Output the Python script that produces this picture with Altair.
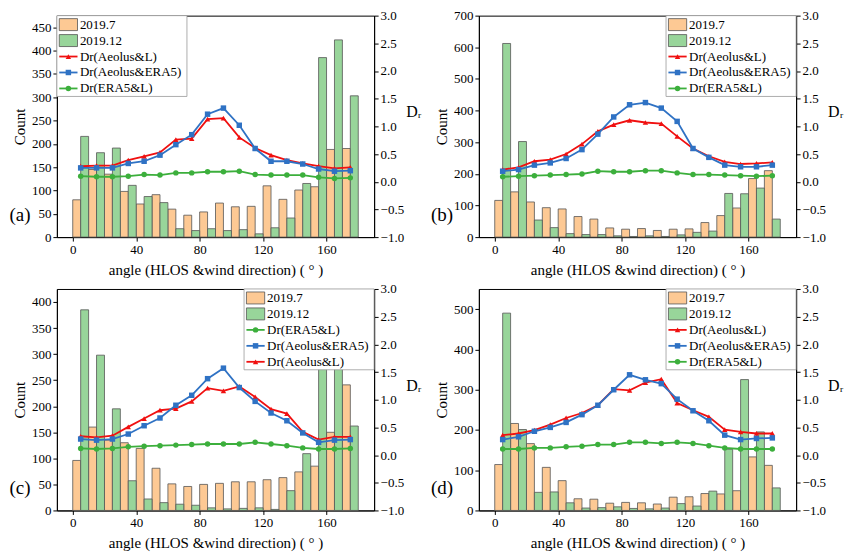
import altair as alt
import pandas as pd

bins = list(range(0, 180, 10))
centers = [b + 5 for b in bins]

a_or = [80,145,135,98,71,91,60,47,54,73,65,66,110,81,101,108,188,190]
a_gr = [216,181,191,111,87,74,18,14,18,14,16,7,20,41,115,385,423,303]
a_red = [0.28,0.29,0.29,0.39,0.46,0.53,0.76,0.78,1.13,1.15,0.80,0.61,0.48,0.39,0.33,0.28,0.24,0.26]
a_blue = [0.25,0.25,0.25,0.33,0.37,0.48,0.67,0.85,1.22,1.33,1.02,0.60,0.37,0.37,0.32,0.23,0.19,0.20]
a_green = [0.10,0.09,0.09,0.10,0.13,0.12,0.16,0.16,0.18,0.18,0.19,0.13,0.12,0.12,0.12,0.08,0.06,0.07]

b_or = [116,143,111,93,89,65,57,29,25,27,21,25,26,46,68,92,185,210]
b_gr = [612,302,54,30,11,8,8,4,2,4,2,7,15,19,138,137,155,57]
b_red = [0.22,0.26,0.37,0.40,0.50,0.68,0.91,1.03,1.11,1.07,1.05,0.82,0.60,0.46,0.36,0.32,0.33,0.35]
b_blue = [0.19,0.22,0.30,0.34,0.42,0.58,0.86,1.17,1.39,1.43,1.33,1.09,0.60,0.44,0.30,0.27,0.27,0.30]
b_green = [0.09,0.10,0.11,0.12,0.13,0.14,0.19,0.18,0.18,0.20,0.20,0.16,0.13,0.13,0.12,0.11,0.10,0.11]

c_or = [96,160,135,130,119,81,51,46,50,52,55,55,59,63,74,85,150,241]
c_gr = [385,298,195,57,22,15,12,10,5,3,4,5,2,38,109,330,281,162]
c_red = [0.34,0.32,0.35,0.51,0.66,0.81,0.84,0.97,1.21,1.16,1.24,1.05,0.83,0.75,0.42,0.28,0.33,0.33]
c_blue = [0.29,0.27,0.29,0.38,0.53,0.67,0.90,1.08,1.38,1.57,1.22,0.97,0.76,0.62,0.40,0.23,0.27,0.28]
c_green = [0.12,0.11,0.12,0.15,0.16,0.17,0.18,0.19,0.20,0.20,0.20,0.23,0.20,0.17,0.13,0.11,0.11,0.12]

d_or = [114,216,166,107,74,29,28,18,20,19,16,33,34,42,41,49,133,112]
d_gr = [490,201,45,46,19,6,7,9,5,4,6,17,11,48,152,325,195,56]
d_red = [0.36,0.39,0.45,0.55,0.67,0.76,0.90,1.19,1.17,1.31,1.37,0.94,0.81,0.69,0.46,0.42,0.39,0.39]
d_blue = [0.28,0.33,0.43,0.50,0.59,0.73,0.90,1.18,1.45,1.36,1.29,1.01,0.80,0.62,0.36,0.28,0.30,0.31]
d_green = [0.11,0.11,0.13,0.13,0.15,0.16,0.19,0.19,0.23,0.23,0.21,0.23,0.21,0.17,0.13,0.11,0.11,0.11]

ORANGE = "#fdc994"
GREENBAR = "#98d59a"
RED = "#f01010"
BLUE = "#2f72c4"
GREEN = "#3caf3c"
FONT = "Liberation Serif"
W, H = 318, 222

line_info = {
    "Dr(Aeolus&L)": (RED, "triangle-up"),
    "Dr(Aeolus&ERA5)": (BLUE, "square"),
    "Dr(ERA5&L)": (GREEN, "circle"),
}
AX = dict(grid=False, tickSize=4, labelFont=FONT, titleFont=FONT, labelFontSize=13, titleFontSize=15,
          titleFontWeight="normal", labelColor="black", titleColor="black",
          domainColor="black", tickColor="black", labelOverlap=False)


def panel(orr, grr, red, blue, grn, ymax, ystep, label, legend_x0, order):
    xs = alt.Scale(domain=[-10, 190], nice=False)
    xaxis = alt.Axis(values=list(range(0, 181, 20)), title="angle (HLOS &wind direction)  ( ° )",
                     titlePadding=6, **AX)
    bars = pd.DataFrame({
        "x": bins + [b + 5 for b in bins],
        "x2": [b + 5 for b in bins] + [b + 10 for b in bins],
        "v": orr + grr,
        "s": ["2019.7"] * 18 + ["2019.12"] * 18,
    })
    yl = alt.Scale(domain=[0, ymax], nice=False)
    bar = alt.Chart(bars).mark_rect(stroke="#555555", strokeWidth=0.8).encode(
        x=alt.X("x:Q", scale=xs, axis=xaxis),
        x2="x2:Q",
        y=alt.Y("v:Q", scale=yl, axis=alt.Axis(title="Count", values=list(range(0, ymax + 1, ystep)),
                                              titlePadding=4, **AX)),
        y2=alt.datum(0),
        color=alt.Color("s:N", scale=alt.Scale(domain=["2019.7", "2019.12"], range=[ORANGE, GREENBAR]), legend=None),
    )
    lines_df = pd.DataFrame({
        "x": centers * 3,
        "v": red + blue + grn,
        "s": ["Dr(Aeolus&L)"] * 18 + ["Dr(Aeolus&ERA5)"] * 18 + ["Dr(ERA5&L)"] * 18,
    })
    yr = alt.Scale(domain=[-1, 3], nice=False)
    ax2 = dict(AX)
    ax2["titleFontSize"] = 16
    raxis = alt.Axis(title="Dᵣ", orient="right", values=[-1 + 0.5 * i for i in range(9)], format=".1f",
                     titleAngle=0, titleY=H * 0.47, titlePadding=2, titleAlign="left", **ax2)
    layers = [bar]
    for name, (col, shp) in line_info.items():
        sub = lines_df[lines_df.s == name]
        layers.append(alt.Chart(sub).mark_line(color=col, strokeWidth=1.8, point=alt.OverlayMarkDef(
            shape=shp, filled=True, color=col, size=30)).encode(
            x=alt.X("x:Q", scale=xs),
            y=alt.Y("v:Q", scale=yr, axis=raxis if name == "Dr(Aeolus&L)" else None),
        ))
    ypx = alt.Scale(domain=[0, H], range=[0, H])
    rows = pd.DataFrame({"name": order, "r": [9 + 16 * i for i in range(5)]})
    rows["r0"] = rows.r - 6
    rows["r1"] = rows.r + 6
    rows["x0"] = legend_x0 + 1.5
    rows["x1"] = legend_x0 + 13
    rows["xm"] = legend_x0 + 7.25
    rows["xt"] = legend_x0 + 14.5
    box = pd.DataFrame({"x0": [legend_x0], "x1": [190 if legend_x0 > 50 else legend_x0 + 82],
                        "y0": [0], "y1": [81]})
    leg = [alt.Chart(box).mark_rect(fill="white", stroke="#999999", strokeWidth=0.8).encode(
        x=alt.X("x0:Q", scale=xs), x2="x1:Q",
        y=alt.Y("y0:Q", scale=ypx, axis=None), y2="y1:Q")]
    barrows = rows[rows.name.isin(["2019.7", "2019.12"])].copy()
    barrows["c"] = barrows.name.map({"2019.7": ORANGE, "2019.12": GREENBAR})
    leg.append(alt.Chart(barrows).mark_rect(stroke="#555555", strokeWidth=0.8).encode(
        x=alt.X("x0:Q", scale=xs), x2="x1:Q",
        y=alt.Y("r0:Q", scale=ypx, axis=None), y2="r1:Q",
        color=alt.Color("c:N", scale=None)))
    for name, (col, shp) in line_info.items():
        rr = rows[rows.name == name]
        leg.append(alt.Chart(rr).mark_rule(color=col, strokeWidth=1.8).encode(
            x=alt.X("x0:Q", scale=xs), x2="x1:Q", y=alt.Y("r:Q", scale=ypx, axis=None)))
        leg.append(alt.Chart(rr).mark_point(shape=shp, filled=True, color=col, size=30, opacity=1).encode(
            x=alt.X("xm:Q", scale=xs), y=alt.Y("r:Q", scale=ypx, axis=None)))
    leg.append(alt.Chart(rows).mark_text(align="left", baseline="middle", font=FONT, fontSize=13).encode(
        x=alt.X("xt:Q", scale=xs), y=alt.Y("r:Q", scale=ypx, axis=None), text="name:N"))
    lab = alt.Chart(pd.DataFrame({"t": [label]})).mark_text(
        font=FONT, fontSize=19, align="center", baseline="middle").encode(
        x=alt.value(-37), y=alt.value(H - 22), text="t:N")
    main = alt.layer(*layers).resolve_scale(y="independent")
    legend = alt.layer(*leg, lab)
    return alt.layer(main, legend).resolve_scale(y="independent").properties(width=W, height=H)


pa = panel(a_or, a_gr, a_red, a_blue, a_green, 475, 50, "(a)", -10,
           ["2019.7", "2019.12", "Dr(Aeolus&L)", "Dr(Aeolus&ERA5)", "Dr(ERA5&L)"])
pb = panel(b_or, b_gr, b_red, b_blue, b_green, 700, 100, "(b)", 108,
           ["2019.7", "2019.12", "Dr(Aeolus&L)", "Dr(Aeolus&ERA5)", "Dr(ERA5&L)"])
pc = panel(c_or, c_gr, c_red, c_blue, c_green, 425, 50, "(c)", 108,
           ["2019.7", "2019.12", "Dr(ERA5&L)", "Dr(Aeolus&ERA5)", "Dr(Aeolus&L)"])
pd_ = panel(d_or, d_gr, d_red, d_blue, d_green, 550, 100, "(d)", 108,
            ["2019.7", "2019.12", "Dr(Aeolus&L)", "Dr(Aeolus&ERA5)", "Dr(ERA5&L)"])

chart = alt.vconcat(
    alt.hconcat(pa, pb, spacing=8),
    alt.hconcat(pc, pd_, spacing=8),
    spacing=4,
).configure(
    background="white", font=FONT, padding={"left": 0, "top": 0, "right": 0, "bottom": 0}
).configure_view(stroke="black", strokeWidth=1).configure_axis(
    labelFont=FONT, titleFont=FONT)

chart.save("out.html", embed_options={"renderer": "svg", "actions": False})
